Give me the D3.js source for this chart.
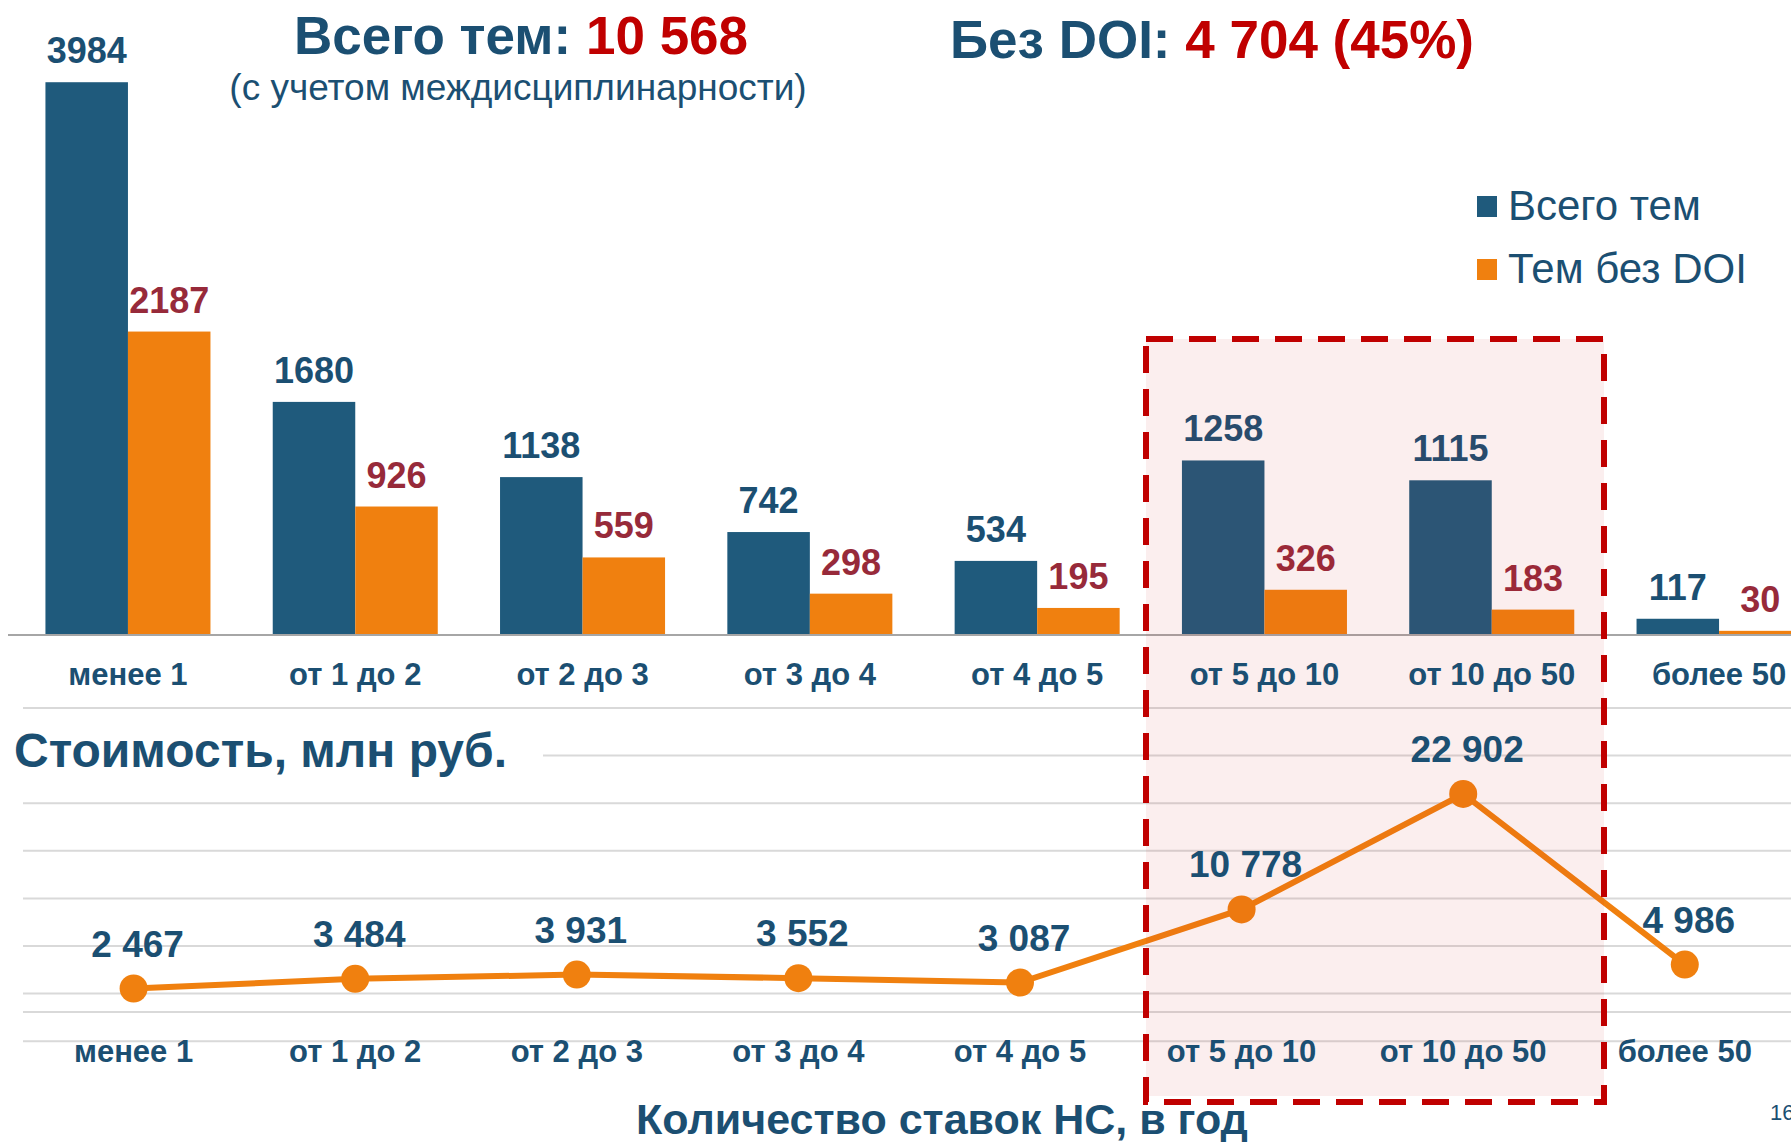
<!DOCTYPE html>
<html>
<head>
<meta charset="utf-8">
<script src="https://cdn.jsdelivr.net/npm/d3@7"></script>
<style>
  body { margin: 0; background: #fff; }
  text { font-family: "Liberation Sans", Arial, sans-serif; }
</style>
</head>
<body>
<svg width="1791" height="1142"></svg>
<script>
var categories = ["менее 1", "от 1 до 2", "от 2 до 3", "от 3 до 4", "от 4 до 5", "от 5 до 10", "от 10 до 50", "более 50"];
var totalTopics = [3984, 1680, 1138, 742, 534, 1258, 1115, 117];
var noDoiTopics = [2187, 926, 559, 298, 195, 326, 183, 30];
var costMln = [2467, 3484, 3931, 3552, 3087, 10778, 22902, 4986];
var seriesNames = ["Всего тем", "Тем без DOI"];

var navy = "#1b4f72",
    blue = "#1f5a7c",
    orange = "#f0800f",
    maroon = "#972a3a",
    red = "#c00000",
    grid = "#d9d9d9";

var svg = d3.select("svg");
var fmt = d3.formatLocale({decimal: ",", thousands: "\u00a0", grouping: [3], currency: ["", ""]}).format(",d");

// bars (top chart)
var x = d3.scaleBand()
  .domain(categories)
  .range([14.3, 1832.7])
  .paddingInner(0.274)
  .paddingOuter(0.137);

var xSub = d3.scaleBand()
  .domain(["total", "noDoi"])
  .range([0, x.bandwidth()]);

var y = d3.scaleLinear()
  .domain([0, 4000])
  .range([635, 80]);

// line (bottom chart)
var xLine = d3.scalePoint()
  .domain(categories)
  .range([133.6, 1684.8]);

var yLine = d3.scaleLinear()
  .domain([0, 25000])
  .range([1012, 774]);

var rows = categories.map(function(c, i) {
  return {cat: c, total: totalTopics[i], noDoi: noDoiTopics[i], cost: costMln[i]};
});

// horizontal rules of the lower block
var ruleYs = d3.range(8).map(function(i) { return 708 + i * 47.6; });
svg.selectAll(".rule")
  .data(ruleYs)
  .enter().append("line")
    .attr("class", "rule")
    .attr("x1", function(d, i) { return i == 1 ? 543 : 23; })
    .attr("x2", 1791)
    .attr("y1", function(d) { return d; })
    .attr("y2", function(d) { return d; })
    .attr("stroke", grid)
    .attr("stroke-width", 2);

svg.append("line")
  .attr("x1", 23).attr("x2", 1791)
  .attr("y1", yLine(0)).attr("y2", yLine(0))
  .attr("stroke", grid).attr("stroke-width", 2);

// bars
var groups = svg.selectAll(".grp")
  .data(rows)
  .enter().append("g")
    .attr("class", "grp")
    .attr("transform", function(d) { return "translate(" + x(d.cat) + ",0)"; });

groups.append("rect")
  .attr("x", xSub("total"))
  .attr("width", xSub.bandwidth())
  .attr("y", function(d) { return y(d.total); })
  .attr("height", function(d) { return y(0) - y(d.total); })
  .attr("fill", blue);

groups.append("rect")
  .attr("x", xSub("noDoi"))
  .attr("width", xSub.bandwidth())
  .attr("y", function(d) { return y(d.noDoi); })
  .attr("height", function(d) { return y(0) - y(d.noDoi); })
  .attr("fill", orange);

svg.append("line")
  .attr("x1", 8).attr("x2", 1791)
  .attr("y1", y(0)).attr("y2", y(0))
  .attr("stroke", "#a6a6a6").attr("stroke-width", 2);

// cost line
var line = d3.line()
  .x(function(d) { return xLine(d.cat); })
  .y(function(d) { return yLine(d.cost); });

svg.append("path")
  .datum(rows)
  .attr("d", line)
  .attr("fill", "none")
  .attr("stroke", orange)
  .attr("stroke-width", 6);

svg.selectAll(".dot")
  .data(rows)
  .enter().append("circle")
    .attr("class", "dot")
    .attr("cx", function(d) { return xLine(d.cat); })
    .attr("cy", function(d) { return yLine(d.cost); })
    .attr("r", 14)
    .attr("fill", orange);

// highlight box
var boxX0 = 1146, boxX1 = 1604, boxY0 = 339, boxY1 = 1102;
svg.append("rect")
  .attr("x", boxX0).attr("y", boxY0)
  .attr("width", boxX1 - boxX0).attr("height", boxY1 - boxY0 - 6)
  .attr("fill", "rgba(200,40,40,0.08)");

svg.append("rect")
  .attr("x", boxX0).attr("y", boxY0)
  .attr("width", boxX1 - boxX0).attr("height", boxY1 - boxY0)
  .attr("fill", "none")
  .attr("stroke", red)
  .attr("stroke-width", 6)
  .attr("stroke-dasharray", "27,16");

// bar value labels
groups.append("text")
  .attr("x", xSub("total") + xSub.bandwidth() / 2)
  .attr("y", function(d) { return y(d.total) - 19; })
  .attr("text-anchor", "middle")
  .attr("font-size", 36).attr("font-weight", "bold")
  .attr("fill", navy)
  .text(function(d) { return d.total; });

groups.append("text")
  .attr("x", xSub("noDoi") + xSub.bandwidth() / 2)
  .attr("y", function(d) { return y(d.noDoi) - 19; })
  .attr("text-anchor", "middle")
  .attr("font-size", 36).attr("font-weight", "bold")
  .attr("fill", maroon)
  .text(function(d) { return d.noDoi; });

// category labels, top
svg.selectAll(".catTop")
  .data(categories)
  .enter().append("text")
    .attr("class", "catTop")
    .attr("x", function(d) { return x(d) + x.bandwidth() / 2; })
    .attr("y", 685)
    .attr("text-anchor", "middle")
    .attr("font-size", 31).attr("font-weight", "bold")
    .attr("fill", navy)
    .text(function(d) { return d; });

// category labels, bottom
svg.selectAll(".catBot")
  .data(categories)
  .enter().append("text")
    .attr("class", "catBot")
    .attr("x", function(d) { return xLine(d); })
    .attr("y", 1062)
    .attr("text-anchor", "middle")
    .attr("font-size", 31).attr("font-weight", "bold")
    .attr("fill", navy)
    .text(function(d) { return d; });

// cost labels
svg.selectAll(".costLbl")
  .data(rows)
  .enter().append("text")
    .attr("class", "costLbl")
    .attr("x", function(d) { return xLine(d.cat) + 4; })
    .attr("y", function(d) { return yLine(d.cost) - 32; })
    .attr("text-anchor", "middle")
    .attr("font-size", 37).attr("font-weight", "bold")
    .attr("fill", navy)
    .text(function(d) { return fmt(d.cost); });

// titles
var t1 = svg.append("text")
  .attr("x", 521).attr("y", 54)
  .attr("text-anchor", "middle")
  .attr("font-size", 53).attr("font-weight", "bold");
t1.append("tspan").attr("fill", navy).text("Всего тем: ");
t1.append("tspan").attr("fill", red).text(fmt(d3.sum(totalTopics)));

svg.append("text")
  .attr("x", 518).attr("y", 100)
  .attr("text-anchor", "middle")
  .attr("font-size", 37)
  .attr("fill", navy)
  .text("(с учетом междисциплинарности)");

var t2 = svg.append("text")
  .attr("x", 950).attr("y", 58)
  .attr("font-size", 53).attr("font-weight", "bold");
t2.append("tspan").attr("fill", navy).text("Без DOI: ");
t2.append("tspan").attr("fill", red).text("4\u00a0704 (45%)");

// legend
var legend = svg.selectAll(".leg")
  .data(seriesNames)
  .enter().append("g")
    .attr("class", "leg")
    .attr("transform", function(d, i) { return "translate(1477," + (196 + i * 63) + ")"; });
legend.append("rect")
  .attr("width", 20).attr("height", 21)
  .attr("fill", function(d, i) { return i == 0 ? blue : orange; });
legend.append("text")
  .attr("x", 31).attr("y", 24)
  .attr("font-size", 42)
  .attr("fill", navy)
  .text(function(d) { return d; });

svg.append("text")
  .attr("x", 14).attr("y", 767)
  .attr("font-size", 48).attr("font-weight", "bold")
  .attr("fill", navy)
  .text("Стоимость, млн руб.");

svg.append("text")
  .attr("x", 942).attr("y", 1134)
  .attr("text-anchor", "middle")
  .attr("font-size", 43).attr("font-weight", "bold")
  .attr("fill", navy)
  .text("Количество ставок НС, в год");

svg.append("text")
  .attr("x", 1770).attr("y", 1120)
  .attr("font-size", 22)
  .attr("fill", navy)
  .text("16");
</script>
</body>
</html>
